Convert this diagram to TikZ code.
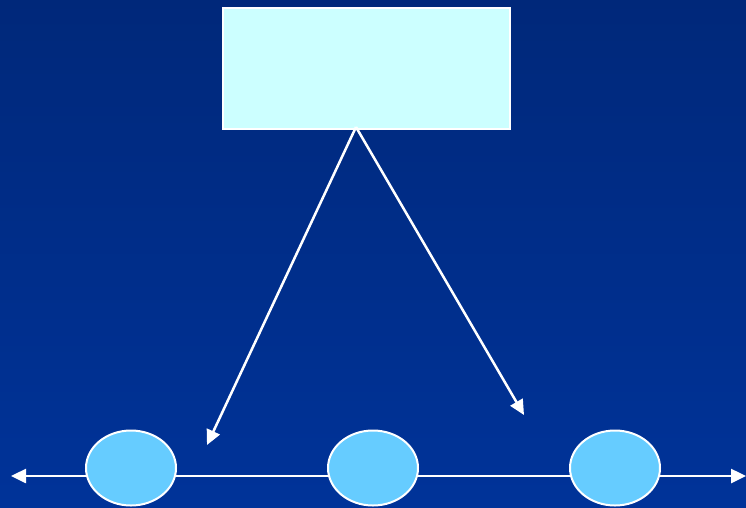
\documentclass[tikz,border=0pt]{standalone}
\usetikzlibrary{arrows.meta,shapes.geometric}
\definecolor{bgtop}{HTML}{00287A}
\definecolor{bgbot}{HTML}{003399}
\definecolor{boxfill}{HTML}{CCFFFF}
\definecolor{ellfill}{HTML}{66CCFF}
\begin{document}
\begin{tikzpicture}[x=1pt,y=-1pt,
  wline/.style={draw=white,line width=2.5pt},
  tip/.style={-{Triangle[length=15pt,width=14pt]}},
  bubble/.style={ellipse,draw=white,line width=2pt,fill=ellfill,minimum width=90pt,minimum height=75pt,inner sep=0pt},
  topbox/.style={rectangle,draw=white,line width=2pt,fill=boxfill,minimum width=287pt,minimum height=121pt,inner sep=0pt}]
\shade[top color=bgtop,bottom color=bgbot] (0,0) rectangle (746,507);
\useasboundingbox (0,0) rectangle (746,507);
\node[topbox] (box) at (366,68) {};
\coordinate (apex) at (356,127);
\coordinate (t1) at (207,445);
\coordinate (t2) at (524,415);
\coordinate (L) at (11,476);
\coordinate (R) at (746,476);
\draw[wline,{Triangle[length=15pt,width=14pt]}-{Triangle[length=15pt,width=14pt]}] (L) -- (R);
\node[bubble] (e1) at (131,468) {};
\node[bubble] (e2) at (373,468) {};
\node[bubble] (e3) at (615,468) {};
\draw[wline,tip] (apex) -- (t1);
\draw[wline,tip] (apex) -- (t2);
\end{tikzpicture}
\end{document}
